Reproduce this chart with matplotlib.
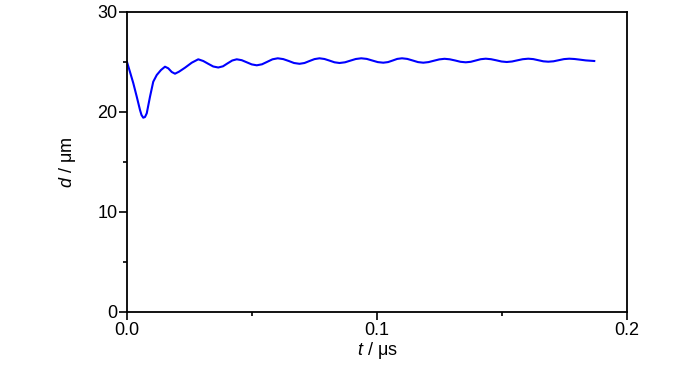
import matplotlib
matplotlib.use("Agg")
import matplotlib.pyplot as plt
from matplotlib.ticker import MultipleLocator

plt.rcParams['font.family'] = ['Liberation Sans', 'DejaVu Sans']
plt.rcParams['mathtext.fontset'] = 'custom'
plt.rcParams['mathtext.it'] = 'Liberation Sans:italic'
plt.rcParams['mathtext.rm'] = 'Liberation Sans'

t_us = [0.0, 0.0012, 0.0025, 0.0039, 0.0052, 0.0058, 0.0065, 0.0072, 0.0079,
        0.0092, 0.0105, 0.0119, 0.0136, 0.0152, 0.0165, 0.0179, 0.0192, 0.0208, 0.0232,
        0.0259, 0.0285,
        0.0305, 0.0325, 0.0345, 0.0365,
        0.0384, 0.0402, 0.0421, 0.0439,
        0.0459, 0.0479, 0.0499, 0.0519,
        0.054, 0.0561, 0.0582, 0.0603,
        0.0625, 0.0647, 0.0668, 0.069,
        0.071, 0.073, 0.075, 0.077,
        0.079, 0.081, 0.083, 0.085,
        0.0872, 0.0894, 0.0915, 0.0937,
        0.0959, 0.0981, 0.1003, 0.1025,
        0.1044, 0.1063, 0.1081, 0.11,
        0.1121, 0.1143, 0.1164, 0.1185,
        0.1206, 0.1228, 0.1249, 0.127,
        0.1291, 0.1313, 0.1334, 0.1355,
        0.1375, 0.1395, 0.1415, 0.1435,
        0.1456, 0.1477, 0.1498, 0.1519,
        0.154, 0.1562, 0.1583, 0.1605,
        0.1625, 0.1645, 0.1665, 0.1685,
        0.1706, 0.1727, 0.1748, 0.1769,
        0.179, 0.181, 0.1835, 0.1869]
d_um = [25.0, 24.0, 22.9, 21.53, 20.2, 19.7, 19.43, 19.5, 19.87,
        21.53, 23.03, 23.7, 24.2, 24.53, 24.37, 24.0, 23.83, 24.03, 24.43,
        24.93, 25.27,
        25.1, 24.82, 24.55, 24.45,
        24.57, 24.86, 25.15, 25.27,
        25.18, 24.97, 24.76, 24.67,
        24.77, 25.02, 25.27, 25.37,
        25.29, 25.1, 24.9, 24.82,
        24.9, 25.1, 25.29, 25.37,
        25.3, 25.14, 24.97, 24.9,
        24.97, 25.14, 25.3, 25.37,
        25.31, 25.15, 24.99, 24.93,
        24.99, 25.15, 25.31, 25.37,
        25.31, 25.15, 24.99, 24.93,
        24.99, 25.13, 25.26, 25.32,
        25.27, 25.15, 25.02, 24.97,
        25.02, 25.15, 25.28, 25.33,
        25.28, 25.17, 25.05, 25.0,
        25.05, 25.17, 25.28, 25.33,
        25.29, 25.18, 25.07, 25.03,
        25.07, 25.18, 25.29, 25.33,
        25.3, 25.24, 25.16, 25.1]

x_ticks = [0.0, 0.1, 0.2]
x_ticklabels = ['0.0', '0.1', '0.2']
y_ticks = [0, 10, 20, 30]

fig = plt.figure(figsize=(7, 3.74), dpi=100)
ax = fig.add_axes([127/700, 62/374, 500/700, 300/374])
ax.plot(t_us, d_um, color='#0000ff', lw=1.5, solid_joinstyle='round')

ax.set_xlim(0, 0.2)
ax.set_ylim(0, 30)
ax.set_xticks(x_ticks)
ax.set_xticklabels(x_ticklabels)
ax.set_yticks(y_ticks)
ax.xaxis.set_minor_locator(MultipleLocator(0.05))
ax.yaxis.set_minor_locator(MultipleLocator(5))
ax.tick_params(which='both', direction='out', top=False, right=False, labelsize=13, width=1.2, pad=1)
ax.tick_params(which='major', length=6)
ax.tick_params(which='minor', length=3)
for s in ax.spines.values():
    s.set_linewidth(1.3)

ax.set_xlabel(r'$t$ / μs', fontsize=13, labelpad=1)
ax.set_ylabel(r'$d$ / μm', fontsize=13, labelpad=14)

fig.savefig('out.png', dpi=100)
